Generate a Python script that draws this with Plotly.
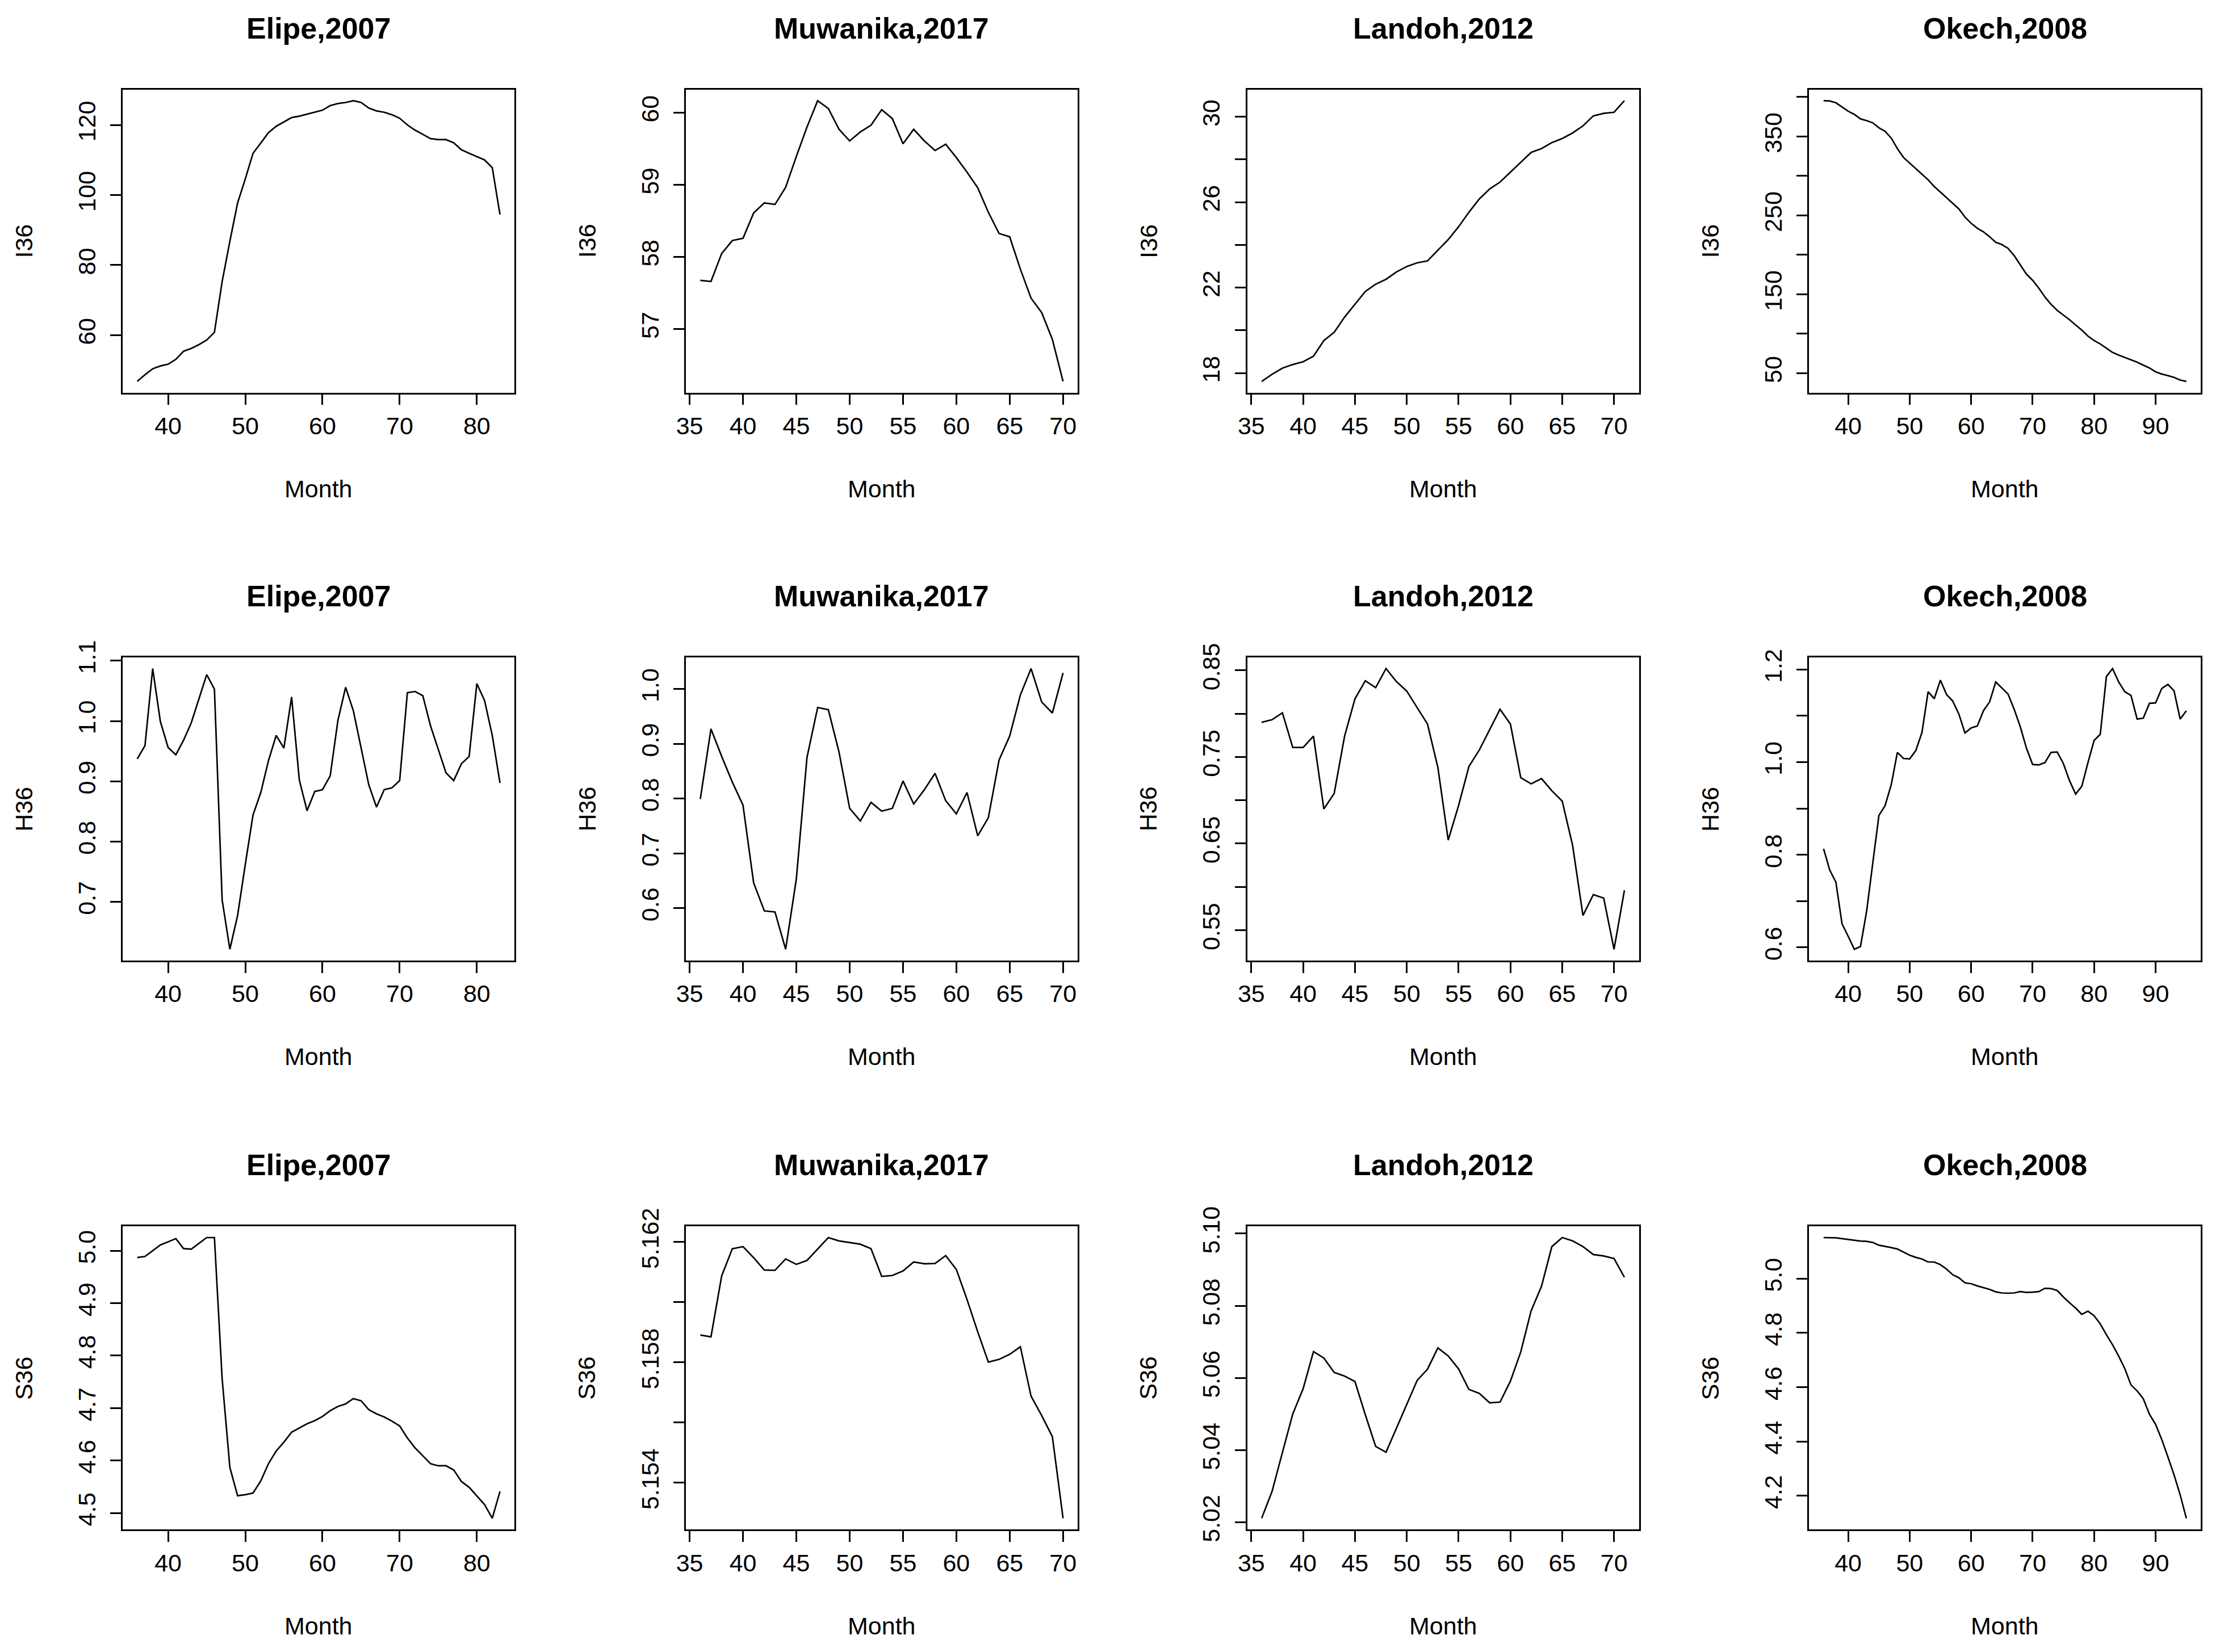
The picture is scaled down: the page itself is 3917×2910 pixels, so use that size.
import plotly.graph_objects as go

W, H = 3917, 2910

# ---------------- data ----------------
months_elipe = list(range(36, 84))
months_muwanika = list(range(36, 71))
months_landoh = list(range(36, 72))
months_okech = list(range(36, 96))

elipe_I36 = [46.8, 48.7, 50.4, 51.2, 51.7, 53.1, 55.4, 56.2, 57.3, 58.6, 60.8, 75.3, 86.8, 97.7,
             104.6, 111.9, 114.8, 117.8, 119.6, 120.8, 122.1, 122.5, 123.1, 123.7, 124.2, 125.5,
             126.1, 126.4, 126.9, 126.4, 124.8, 124.0, 123.6, 122.9, 121.9, 120.0, 118.5, 117.3,
             116.1, 115.8, 115.8, 114.9, 112.9, 111.9, 111.0, 110.0, 107.8, 94.4]
muwanika_I36 = [57.674, 57.659, 58.045, 58.225, 58.256, 58.608, 58.747, 58.726, 58.964, 59.391,
                59.799, 60.164, 60.056, 59.768, 59.607, 59.731, 59.824, 60.040, 59.916, 59.567,
                59.768, 59.607, 59.474, 59.561, 59.375, 59.174, 58.958, 58.617, 58.324, 58.277,
                57.829, 57.427, 57.226, 56.854, 56.273]
landoh_I36 = [17.61, 17.94, 18.23, 18.40, 18.53, 18.79, 19.52, 19.91, 20.62, 21.21, 21.82, 22.16,
              22.39, 22.73, 22.99, 23.16, 23.25, 23.75, 24.25, 24.85, 25.53, 26.15, 26.62, 26.94,
              27.41, 27.88, 28.33, 28.51, 28.79, 28.98, 29.24, 29.57, 30.04, 30.16, 30.21, 30.75]
okech_I36 = [395.3, 395.0, 392.7, 387.6, 382.0, 378.0, 372.3, 370.1, 367.3, 361.0,
             356.5, 348.0, 334.7, 323.4, 316.3, 309.3, 302.2, 295.1, 286.6, 279.6,
             272.5, 265.4, 258.3, 247.9, 240.0, 233.7, 229.2, 223.0, 215.9, 213.1,
             208.3, 199.0, 186.8, 175.5, 167.8, 157.9, 146.6, 137.3, 129.6, 124.0,
             117.8, 111.2, 104.7, 97.1, 91.4, 87.2, 81.5, 76.4, 73.1, 70.2,
             67.4, 64.0, 60.3, 56.7, 51.8, 49.0, 47.0, 44.8, 41.4, 39.7]

elipe_H36 = [0.937, 0.959, 1.087, 0.999, 0.956, 0.944, 0.968, 0.997, 1.037, 1.077,
             1.053, 0.703, 0.621, 0.677, 0.762, 0.844, 0.881, 0.934, 0.976, 0.955,
             1.040, 0.902, 0.851, 0.883, 0.886, 0.909, 1.001, 1.056, 1.017, 0.957,
             0.894, 0.857, 0.886, 0.889, 0.901, 1.047, 1.049, 1.042, 0.992, 0.953,
             0.914, 0.901, 0.929, 0.941, 1.062, 1.034, 0.976, 0.897]
muwanika_H36 = [0.799, 0.927, 0.877, 0.830, 0.788, 0.646, 0.595, 0.593, 0.525, 0.653,
                0.875, 0.966, 0.962, 0.885, 0.782, 0.759, 0.793, 0.777, 0.782, 0.832,
                0.790, 0.816, 0.846, 0.796, 0.772, 0.811, 0.732, 0.765, 0.870, 0.914,
                0.989, 1.037, 0.976, 0.956, 1.029]
landoh_H36 = [0.790, 0.793, 0.801, 0.761, 0.761, 0.774, 0.690, 0.708, 0.774, 0.817,
              0.838, 0.830, 0.852, 0.837, 0.826, 0.807, 0.788, 0.738, 0.654, 0.694,
              0.739, 0.758, 0.781, 0.805, 0.788, 0.726, 0.719, 0.725, 0.711, 0.699,
              0.648, 0.567, 0.591, 0.587, 0.528, 0.596]
okech_H36 = [0.813, 0.767, 0.741, 0.651, 0.624, 0.596, 0.602, 0.678, 0.782, 0.885,
             0.906, 0.951, 1.021, 1.008, 1.007, 1.025, 1.064, 1.152, 1.137, 1.177,
             1.146, 1.132, 1.104, 1.063, 1.074, 1.078, 1.111, 1.130, 1.173, 1.160,
             1.147, 1.114, 1.076, 1.030, 0.995, 0.994, 0.999, 1.021, 1.022, 0.997,
             0.960, 0.931, 0.948, 0.999, 1.047, 1.060, 1.185, 1.202, 1.173, 1.152,
             1.144, 1.093, 1.095, 1.127, 1.128, 1.159, 1.168, 1.154, 1.093, 1.111]

elipe_S36 = [4.987, 4.989, 5.000, 5.011, 5.017, 5.023, 5.004, 5.003, 5.014, 5.025,
             5.025, 4.756, 4.587, 4.533, 4.535, 4.538, 4.561, 4.594, 4.618, 4.635,
             4.654, 4.662, 4.670, 4.676, 4.684, 4.695, 4.703, 4.708, 4.718, 4.714,
             4.697, 4.689, 4.683, 4.675, 4.666, 4.643, 4.624, 4.609, 4.594, 4.590,
             4.590, 4.582, 4.560, 4.549, 4.533, 4.516, 4.490, 4.541]
muwanika_S36 = [5.15891, 5.15885, 5.16087, 5.16178, 5.16185, 5.16148, 5.16107, 5.16106, 5.16144,
                5.16126, 5.16139, 5.16178, 5.16215, 5.16204, 5.16199, 5.16193, 5.16178, 5.16086,
                5.16089, 5.16104, 5.16134, 5.16128, 5.16129, 5.16155, 5.16109, 5.16009, 5.15902,
                5.15801, 5.15810, 5.15827, 5.15852, 5.15688, 5.15623, 5.15553, 5.15282]
landoh_S36 = [5.0211, 5.0285, 5.0393, 5.0500, 5.0570, 5.0673, 5.0655, 5.0615, 5.0605, 5.0590,
              5.0498, 5.0410, 5.0394, 5.0461, 5.0526, 5.0593, 5.0624, 5.0683, 5.0661, 5.0625,
              5.0568, 5.0557, 5.0531, 5.0533, 5.0591, 5.0672, 5.0786, 5.0854, 5.0964, 5.0989,
              5.0980, 5.0964, 5.0942, 5.0938, 5.0931, 5.0879]
okech_S36 = [5.151, 5.151, 5.150, 5.147, 5.144, 5.140, 5.138, 5.137, 5.133, 5.123,
             5.119, 5.114, 5.109, 5.098, 5.086, 5.078, 5.072, 5.061, 5.061, 5.051,
             5.035, 5.014, 5.003, 4.984, 4.981, 4.973, 4.966, 4.960, 4.951, 4.947,
             4.946, 4.947, 4.952, 4.949, 4.950, 4.952, 4.964, 4.963, 4.956, 4.932,
             4.911, 4.891, 4.868, 4.880, 4.863, 4.833, 4.793, 4.756, 4.714, 4.668,
             4.608, 4.586, 4.557, 4.500, 4.463, 4.407, 4.343, 4.277, 4.203, 4.117]

# tick values / labels
xt_elipe = [40, 50, 60, 70, 80]
xt_muwanika = [35, 40, 45, 50, 55, 60, 65, 70]
xt_landoh = [35, 40, 45, 50, 55, 60, 65, 70]
xt_okech = [40, 50, 60, 70, 80, 90]

yt_elipe_I = [60, 80, 100, 120];            yl_elipe_I = ["60", "80", "100", "120"]
yt_muw_I = [57, 58, 59, 60];                yl_muw_I = ["57", "58", "59", "60"]
yt_lan_I = [18, 20, 22, 24, 26, 28, 30];    yl_lan_I = ["18", "", "22", "", "26", "", "30"]
yt_oke_I = [50, 100, 150, 200, 250, 300, 350, 400]
yl_oke_I = ["50", "", "150", "", "250", "", "350", ""]
yt_elipe_H = [0.7, 0.8, 0.9, 1.0, 1.1];     yl_elipe_H = ["0.7", "0.8", "0.9", "1.0", "1.1"]
yt_muw_H = [0.6, 0.7, 0.8, 0.9, 1.0];       yl_muw_H = ["0.6", "0.7", "0.8", "0.9", "1.0"]
yt_lan_H = [0.55, 0.60, 0.65, 0.70, 0.75, 0.80, 0.85]
yl_lan_H = ["0.55", "", "0.65", "", "0.75", "", "0.85"]
yt_oke_H = [0.6, 0.7, 0.8, 0.9, 1.0, 1.1, 1.2]
yl_oke_H = ["0.6", "", "0.8", "", "1.0", "", "1.2"]
yt_elipe_S = [4.5, 4.6, 4.7, 4.8, 4.9, 5.0]; yl_elipe_S = ["4.5", "4.6", "4.7", "4.8", "4.9", "5.0"]
yt_muw_S = [5.154, 5.156, 5.158, 5.160, 5.162]
yl_muw_S = ["5.154", "", "5.158", "", "5.162"]
yt_lan_S = [5.02, 5.04, 5.06, 5.08, 5.10];  yl_lan_S = ["5.02", "5.04", "5.06", "5.08", "5.10"]
yt_oke_S = [4.2, 4.4, 4.6, 4.8, 5.0];       yl_oke_S = ["4.2", "4.4", "4.6", "4.8", "5.0"]

titles = ["Elipe,2007", "Muwanika,2017", "Landoh,2012", "Okech,2008"]
ylabels = ["I36", "H36", "S36"]
xlabel = "Month"

panels = [
    (months_elipe, elipe_I36, xt_elipe, yt_elipe_I, yl_elipe_I),
    (months_muwanika, muwanika_I36, xt_muwanika, yt_muw_I, yl_muw_I),
    (months_landoh, landoh_I36, xt_landoh, yt_lan_I, yl_lan_I),
    (months_okech, okech_I36, xt_okech, yt_oke_I, yl_oke_I),
    (months_elipe, elipe_H36, xt_elipe, yt_elipe_H, yl_elipe_H),
    (months_muwanika, muwanika_H36, xt_muwanika, yt_muw_H, yl_muw_H),
    (months_landoh, landoh_H36, xt_landoh, yt_lan_H, yl_lan_H),
    (months_okech, okech_H36, xt_okech, yt_oke_H, yl_oke_H),
    (months_elipe, elipe_S36, xt_elipe, yt_elipe_S, yl_elipe_S),
    (months_muwanika, muwanika_S36, xt_muwanika, yt_muw_S, yl_muw_S),
    (months_landoh, landoh_S36, xt_landoh, yt_lan_S, yl_lan_S),
    (months_okech, okech_S36, xt_okech, yt_oke_S, yl_oke_S),
]

# ---------------- layout geometry (pixels) ----------------
col_left = [192, 1188, 2181, 3175]
row_top = [116, 1137, 2160]
BW, BH = 693, 545
TITLE_OFF = 110
XLAB_OFF = 173
YLAB_OFF = 175
LW = 2.7
TICKLEN = 19
FONT = "Liberation Sans, Arial, Helvetica, sans-serif"
FS = 43
TFS = 52

fig = go.Figure()
layout = {}
annotations = []

for i, (xs, ys, xt, yt, yl) in enumerate(panels):
    r, c = divmod(i, 4)
    n = i + 1
    xa = "x" if n == 1 else f"x{n}"
    ya = "y" if n == 1 else f"y{n}"
    fig.add_trace(go.Scatter(x=xs, y=ys, mode="lines",
                             line=dict(color="black", width=LW),
                             xaxis=xa, yaxis=ya, showlegend=False, hoverinfo="skip"))
    x0 = col_left[c] / W
    x1 = (col_left[c] + BW) / W
    y1 = 1 - row_top[r] / H
    y0 = 1 - (row_top[r] + BH) / H
    xmin, xmax = min(xs), max(xs)
    dx = 0.04 * (xmax - xmin)
    ymin, ymax = min(ys), max(ys)
    dy = 0.04 * (ymax - ymin)
    common = dict(showgrid=False, zeroline=False, showline=True, linecolor="black",
                  linewidth=LW, mirror=True, ticks="outside", ticklen=TICKLEN,
                  tickwidth=LW, tickcolor="black",
                  tickfont=dict(family=FONT, size=FS, color="black"))
    layout["xaxis" if n == 1 else f"xaxis{n}"] = dict(
        domain=[x0, x1], anchor=ya, range=[xmin - dx, xmax + dx],
        tickmode="array", tickvals=xt, ticktext=[str(v) for v in xt],
        ticklabelstandoff=0, **common)
    layout["yaxis" if n == 1 else f"yaxis{n}"] = dict(
        domain=[y0, y1], anchor=xa, range=[ymin - dy, ymax + dy],
        tickmode="array", tickvals=yt, ticktext=yl, tickangle=-90,
        ticklabelstandoff=9, **common)

    cx = (col_left[c] + BW / 2) / W
    annotations.append(dict(text=f"<b>{titles[c]}</b>", x=cx,
                            y=1 - (row_top[r] - TITLE_OFF) / H, xref="paper", yref="paper",
                            showarrow=False, xanchor="center", yanchor="middle",
                            font=dict(family=FONT, size=TFS, color="black")))
    annotations.append(dict(text=xlabel, x=cx, y=1 - (row_top[r] + BH + XLAB_OFF) / H,
                            xref="paper", yref="paper", showarrow=False,
                            xanchor="center", yanchor="middle",
                            font=dict(family=FONT, size=FS, color="black")))
    annotations.append(dict(text=ylabels[r], x=(col_left[c] - YLAB_OFF) / W,
                            y=1 - (row_top[r] + BH / 2) / H, xref="paper", yref="paper",
                            showarrow=False, xanchor="center", yanchor="middle",
                            textangle=-90,
                            font=dict(family=FONT, size=FS, color="black")))

fig.update_layout(width=W, height=H, margin=dict(l=0, r=0, t=0, b=0),
                  paper_bgcolor="white", plot_bgcolor="white",
                  annotations=annotations, **layout)

fig.write_html("out.html")
